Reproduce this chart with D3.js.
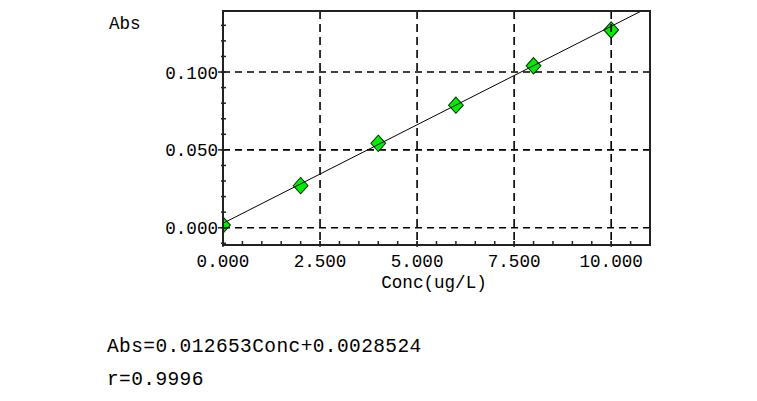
<!DOCTYPE html>
<html><head><meta charset="utf-8">
<script src="https://cdn.jsdelivr.net/npm/d3@7"></script>
<style>body{margin:0;background:#fff;} text{font-family:"Liberation Mono",monospace;fill:#000;}</style>
</head><body>
<svg id="c" width="757" height="401"></svg>
<script>
const conc = [0, 2, 4, 6, 8, 10];
const absVals = [0.0017, 0.027, 0.0542, 0.0787, 0.104, 0.127];
const xTicks = [0, 2.5, 5, 7.5, 10];
const xTickLabels = ["0.000", "2.500", "5.000", "7.500", "10.000"];
const yTicks = [0, 0.05, 0.1];
const yTickLabels = ["0.000", "0.050", "0.100"];
const slope = 0.012653, intercept = 0.0028524;
const eqText = "Abs=0.012653Conc+0.0028524";
const rText = "r=0.9996";

const svg = d3.select("#c");
const L = 223, R = 650, T = 11, B = 245;
const x = d3.scaleLinear().domain([0, 11]).range([L, R]);
const y = d3.scaleLinear().domain([-0.0111, 0.1392]).range([B, T]);

svg.append("defs").append("clipPath").attr("id","clip")
  .append("rect").attr("x",L).attr("y",T).attr("width",R-L).attr("height",B-T);

const plot = svg.append("g").attr("clip-path","url(#clip)");

// points
plot.selectAll("path.pt").data(conc.map((c,i)=>[c,absVals[i]])).join("path")
  .attr("class","pt")
  .attr("d", d3.symbol().type(d3.symbolDiamond2).size(155))
  .attr("transform", d=>`translate(${x(d[0])},${y(d[1])}) scale(0.95,1.05)`)
  .attr("fill","#00ee00").attr("stroke","#083008").attr("stroke-width",1);

// grid
plot.selectAll("line.gx").data(xTicks.slice(1)).join("line")
  .attr("x1",d=>x(d)).attr("x2",d=>x(d)).attr("y1",T).attr("y2",B)
  .attr("stroke","#000").attr("stroke-width",1.6).attr("stroke-dasharray","8,5");
plot.selectAll("line.gy").data(yTicks).join("line")
  .attr("y1",d=>y(d)).attr("y2",d=>y(d)).attr("x1",L).attr("x2",R)
  .attr("stroke","#000").attr("stroke-width",1.6).attr("stroke-dasharray","7,5");

// regression line
plot.append("line")
  .attr("x1",x(0)).attr("y1",y(intercept))
  .attr("x2",x(11)).attr("y2",y(slope*11+intercept))
  .attr("stroke","#000").attr("stroke-width",1);

// frame
svg.append("rect").attr("x",L).attr("y",T).attr("width",R-L).attr("height",B-T)
  .attr("fill","none").attr("stroke","#222").attr("stroke-width",2);

// minor ticks
const xMinor = d3.range(0, 11.01, 0.5);
svg.selectAll("line.xm").data(xMinor).join("line")
  .attr("x1",d=>x(d)).attr("x2",d=>x(d)).attr("y1",B-4).attr("y2",B)
  .attr("stroke","#222").attr("stroke-width",1.5);
svg.selectAll("line.xM").data(xTicks).join("line")
  .attr("x1",d=>x(d)).attr("x2",d=>x(d)).attr("y1",B-4).attr("y2",B+2)
  .attr("stroke","#222").attr("stroke-width",1.5);
const yMinor = d3.range(-0.01, 0.1391, 0.01);
svg.selectAll("line.ym").data(yMinor).join("line")
  .attr("x1",L-2).attr("x2",L+3).attr("y1",d=>y(d)).attr("y2",d=>y(d))
  .attr("stroke","#222").attr("stroke-width",1.5);
svg.selectAll("line.yM").data(yTicks).join("line")
  .attr("x1",L-5).attr("x2",L+3).attr("y1",d=>y(d)).attr("y2",d=>y(d))
  .attr("stroke","#222").attr("stroke-width",1.5);

// tick labels
svg.selectAll("text.xl").data(xTicks).join("text")
  .attr("x",d=>x(d)).attr("y",267).attr("text-anchor","middle")
  .attr("font-size",17.6).text((d,i)=>xTickLabels[i]);
svg.selectAll("text.yl").data(yTicks).join("text")
  .attr("x",218).attr("y",d=>y(d)+6.5).attr("text-anchor","end")
  .attr("font-size",17.6).text((d,i)=>yTickLabels[i]);

svg.append("text").attr("x",109).attr("y",29).attr("font-size",17.6).text("Abs");
svg.append("text").attr("x",434).attr("y",288).attr("text-anchor","middle")
  .attr("font-size",17.6).text("Conc(ug/L)");

svg.append("text").attr("x",107).attr("y",352).attr("font-size",19.5).attr("letter-spacing",0.4).text(eqText);
svg.append("text").attr("x",107).attr("y",385).attr("font-size",19.5).attr("letter-spacing",0.4).text(rText);
</script>
</body></html>
